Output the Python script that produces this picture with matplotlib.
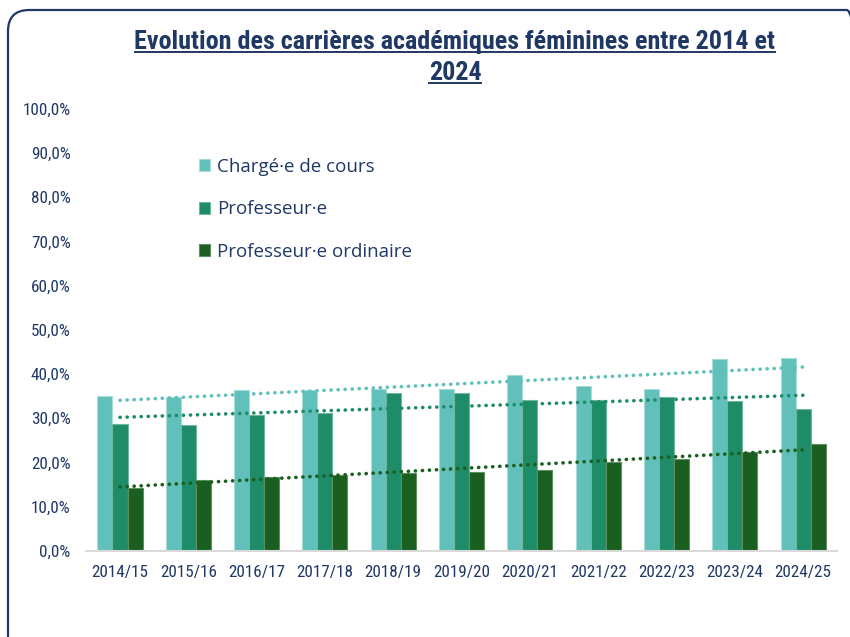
import numpy as np
import matplotlib.pyplot as plt
from matplotlib.patches import FancyBboxPatch
from matplotlib.ticker import FuncFormatter

years = ['2014/15', '2015/16', '2016/17', '2017/18', '2018/19', '2019/20',
         '2020/21', '2021/22', '2022/23', '2023/24', '2024/25']
charge = [35.0, 34.7, 36.3, 36.4, 36.5, 36.6, 39.7, 37.2, 36.5, 43.3, 43.6]
prof = [28.7, 28.5, 30.8, 31.1, 35.7, 35.7, 34.2, 34.2, 34.7, 33.9, 32.1]
prof_ord = [14.3, 16.1, 16.7, 17.2, 17.5, 17.7, 18.2, 20.0, 20.8, 22.3, 24.1]
series_names = ['Chargé·e de cours', 'Professeur·e', 'Professeur·e ordinaire']

colors = ['#62C0BA', '#1F8C69', '#1A5E20']
edges = ['#A8DCD8', '#6FB79B', '#5E8F60']
navy = '#1F3864'
narrow = 'Roboto Condensed'

fig = plt.figure(figsize=(8.5, 6.37), dpi=100)
ax = fig.add_axes([0.101, 0.1355, 0.884, 0.6935])

# rounded frame around the chart
frame = FancyBboxPatch((8 / 850, -20 / 637), 860 / 850, 647 / 637,
                       boxstyle="round,pad=0,rounding_size=0.025",
                       transform=fig.transFigure, fill=False,
                       edgecolor=navy, linewidth=1.6, mutation_aspect=850 / 637)
fig.patches.append(frame)

x = np.arange(len(years))
w = 0.22
handles = []
for i, (vals, c, e) in enumerate(zip([charge, prof, prof_ord], colors, edges)):
    b = ax.bar(x + (i - 1) * w, vals, w, color=c, edgecolor=e, linewidth=0.8,
               label=series_names[i], zorder=2)
    handles.append(b)
    # linear trend
    k, m = np.polyfit(x, vals, 1)
    ax.plot(x, k * x + m, linestyle=(0, (0.05, 1.9)), color=c, linewidth=2.6,
            dash_capstyle='round', zorder=3)

ax.set_xlim(-0.5, len(years) - 0.5)
ax.set_ylim(0, 100)
ax.set_yticks(np.arange(0, 101, 10))
ax.yaxis.set_major_formatter(FuncFormatter(lambda v, p: f"{v:.1f}%".replace('.', ',')))
ax.set_xticks(x)
ax.set_xticklabels(years)
for s in ['top', 'right', 'left']:
    ax.spines[s].set_visible(False)
ax.spines['bottom'].set_color('#D9D9D9')
ax.spines['bottom'].set_linewidth(1.5)
ax.tick_params(axis='both', length=0, labelcolor=navy, labelsize=12.3)
ax.tick_params(axis='y', pad=11)
ax.tick_params(axis='x', pad=10)
for lab in ax.get_xticklabels() + ax.get_yticklabels():
    lab.set_family(narrow)

leg = ax.legend(handles=handles, loc='upper left', bbox_to_anchor=(0.128, 0.927),
                frameon=False, handlelength=0.6, handleheight=0.6,
                handletextpad=0.35, labelspacing=1.3,
                prop={'family': 'Open Sans', 'size': 13.5})
for t in leg.get_texts():
    t.set_color(navy)

# title, underlined
lines = ['Evolution des carrières académiques féminines entre 2014 et', '2024']
ys = [1 - 42 / 637, 1 - 73 / 637]
titles = []
for txt, yy in zip(lines, ys):
    titles.append(fig.text(455 / 850, yy, txt, ha='center', va='center',
                           fontsize=18.8, fontweight='bold', color=navy,
                           family=narrow))
fig.canvas.draw()
r = fig.canvas.get_renderer()
for t in titles:
    bb = t.get_window_extent(r).transformed(fig.transFigure.inverted())
    fig.add_artist(plt.Line2D([bb.x0, bb.x1], [bb.y0 + 0.003, bb.y0 + 0.003],
                              transform=fig.transFigure, color=navy, linewidth=1.4))

fig.savefig('out.png', dpi=100)
